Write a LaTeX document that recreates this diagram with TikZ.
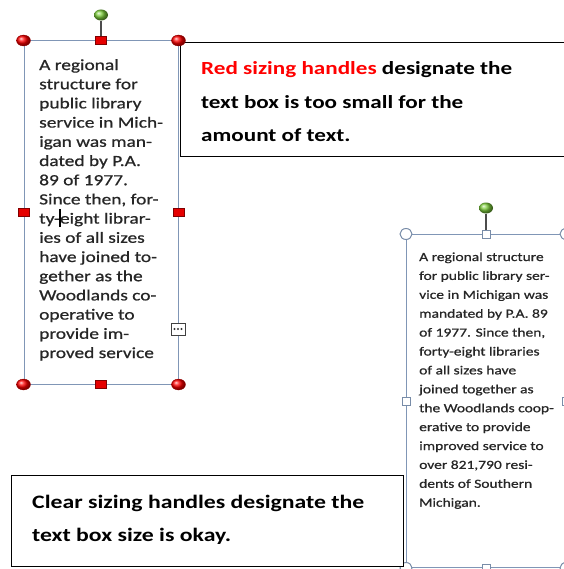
\documentclass[tikz,border=0pt]{standalone}
\usepackage{fontspec}
\setmainfont{Carlito}[FakeStretch=1.25]
\newfontfamily\bodyface{Carlito}[FakeStretch=1.25,FakeBold=0.8]
\usetikzlibrary{shapes.geometric}
\definecolor{framecol}{RGB}{128,150,182}
\definecolor{clearcol}{RGB}{120,140,168}
\definecolor{rotgreen}{RGB}{125,205,60}
\definecolor{bodytext}{RGB}{38,38,38}

\begin{document}
\begin{tikzpicture}[x=1pt,y=-1pt,
    frame/.style={draw=framecol, line width=1pt, inner sep=0pt, rectangle},
    redball/.style={ellipse, ball color=red, draw=red!60!black, line width=0.3pt, minimum width=14pt, minimum height=11pt, inner sep=0pt},
    redsq/.style={rectangle, fill=red!90!black, draw=red!50!black, line width=0.4pt, minimum width=11pt, minimum height=8pt, inner sep=0pt},
    greenball/.style={ellipse, ball color=rotgreen, minimum width=14pt, minimum height=11pt, inner sep=0pt},
    clearball/.style={ellipse, fill=white, draw=clearcol, line width=1pt, minimum width=12pt, minimum height=11pt, inner sep=0pt},
    clearsq/.style={rectangle, fill=white, draw=clearcol, line width=1pt, minimum size=8pt, inner sep=0pt},
    rotline/.style={draw=black!70, line width=1.2pt},
    note/.style={draw=black, line width=1pt, fill=white, inner sep=0pt, anchor=north west},
    bodytxt/.style={anchor=base west, inner sep=0pt, align=left, text=bodytext},
    notetxt/.style={anchor=base west, inner sep=0pt, align=left}]

    \useasboundingbox (0,0) rectangle (563,569);

    % box with text that does not fit (base = last line)
    \node[frame, minimum width=154pt, minimum height=343pt] (smallbox) at (101,212.5) {};
    \node[bodytxt, font=\bodyface\fontsize{15.5}{19.2}\selectfont] (smalltxt) at (39,358)
        {A regional\\structure for\\public library\\service in Mich-\\igan was man-\\dated by P.A.\\89 of 1977.\\Since then, for-\\ty-eight librar-\\ies of all sizes\\have joined to-\\gether as the\\Woodlands co-\\operative to\\provide im-\\proved service};
    \draw[line width=1.6pt] (60,209) -- (60,227);

    \node[note, minimum width=385pt, minimum height=114pt] (rednote) at (180,42) {};
    \node[notetxt, font=\fontsize{18.5}{33.3}\selectfont\bfseries] (rednotetxt) at (201,141.6)
        {\textcolor{red}{Red sizing handles} designate the\\text box is too small for the\\amount of text.};

    \node[redball] (s-nw) at (smallbox.north west) {};
    \node[redball] (s-ne) at (smallbox.north east) {};
    \node[redball] (s-sw) at (smallbox.south west) {};
    \node[redball] (s-se) at (smallbox.south east) {};
    \node[redsq] (s-n) at (smallbox.north) {};
    \node[redsq] (s-s) at (smallbox.south) {};
    \node[redsq] (s-w) at (smallbox.west) {};
    \node[redsq] (s-e) at (smallbox.east) {};
    \node[greenball] (s-rot) at (101,15) {};
    \draw[rotline] (s-rot) -- (s-n);

    \node[draw=black!75, fill=white, line width=0.8pt, minimum width=14pt, minimum height=12pt, inner sep=0pt] (s-more) at (178,329) {};
    \foreach \dx in {-3.5,0,3.5}
        \fill[black!80] (s-more.center) ++(\dx,0) circle (1.1pt);

    % box with text that fits
    \node[frame, minimum width=159pt, minimum height=333pt, anchor=north west] (bigbox) at (406,234) {};
    \node[bodytxt, font=\bodyface\fontsize{12.4}{18.9}\selectfont] (bigtxt) at (419,506.7)
        {A regional structure\\for public library ser-\\vice in Michigan was\\mandated by P.A. 89\\of 1977. Since then,\\forty-eight libraries\\of all sizes have\\joined together as\\the Woodlands coop-\\erative to provide\\improved service to\\over 821,790 resi-\\dents of Southern\\Michigan.};

    \node[clearball] (b-nw) at (bigbox.north west) {};
    \node[clearball] (b-ne) at (bigbox.north east) {};
    \node[clearball] (b-sw) at (bigbox.south west) {};
    \node[clearball] (b-se) at (bigbox.south east) {};
    \node[clearsq] (b-n) at (bigbox.north) {};
    \node[clearsq] (b-s) at (bigbox.south) {};
    \node[clearsq] (b-w) at (bigbox.west) {};
    \node[clearsq] (b-e) at (bigbox.east) {};
    \node[greenball] (b-rot) at (bigbox.north |- 0,208) {};
    \draw[rotline] (b-rot) -- (b-n);

    \node[note, minimum width=392pt, minimum height=91pt] (clearnote) at (11,475) {};
    \node[notetxt, font=\fontsize{19}{33.3}\selectfont\bfseries] (clearnotetxt) at (32,541.3)
        {Clear sizing handles designate the\\text box size is okay.};
\end{tikzpicture}
\end{document}
